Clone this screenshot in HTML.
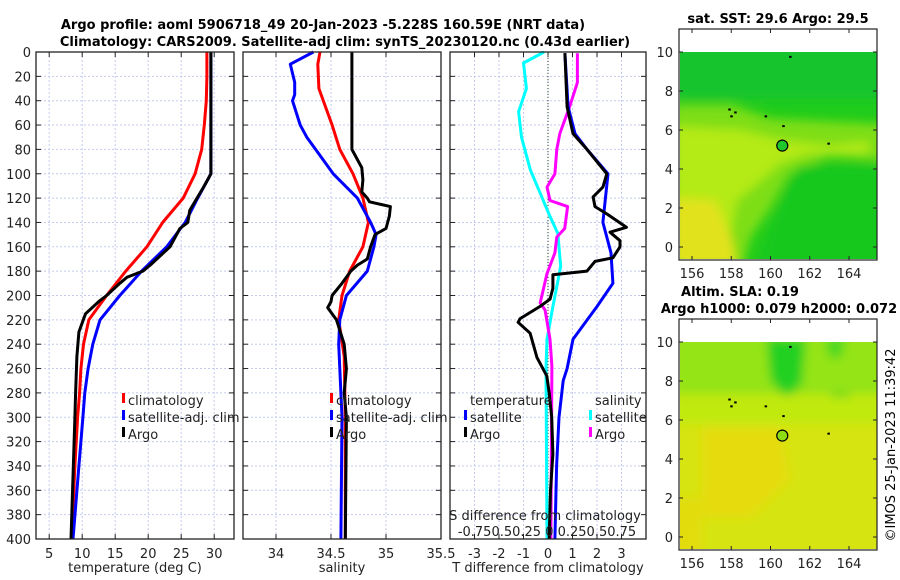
<!DOCTYPE html>
<html><head><meta charset="utf-8"><style>
html,body{margin:0;padding:0;background:#fff;}
svg{display:block;font-family:"DejaVu Sans","Liberation Sans",sans-serif;}
</style></head><body>
<svg id="fig" width="900" height="580" viewBox="0 0 900 580" xmlns="http://www.w3.org/2000/svg">
<defs>
<filter id="bl" x="-20%" y="-20%" width="140%" height="140%"><feGaussianBlur stdDeviation="5"/></filter>
<clipPath id="c1"><rect x="680" y="52" width="197" height="207"/></clipPath>
<clipPath id="c2"><rect x="680" y="342" width="197" height="207"/></clipPath>
</defs>
<g font-weight="bold" font-size="13" text-anchor="middle" fill="#000">
<text x="323" y="29">Argo profile: aoml 5906718_49 20-Jan-2023 -5.228S 160.59E (NRT data)</text>
<text x="345" y="46">Climatology: CARS2009. Satellite-adj clim: synTS_20230120.nc (0.43d earlier)</text>
</g>
<g font-weight="bold" font-size="13" text-anchor="middle"><text x="778" y="23">sat. SST: 29.6 Argo: 29.5</text></g>
<g font-weight="bold" font-size="13" text-anchor="middle"><text x="740" y="296">Altim. SLA: 0.19</text><text x="779" y="313">Argo h1000: 0.079 h2000: 0.072</text></g>
<text font-size="13" text-anchor="middle" transform="translate(895,445) rotate(-90)">©IMOS 25-Jan-2023 11:39:42</text>
<g id="plots"></g>
</svg>
<script>
// ---- data (depth in dbar) ----
const depthTicks = [0,20,40,60,80,100,120,140,160,180,200,220,240,260,280,300,320,340,360,380,400];
const tempTicks = [5,10,15,20,25,30];
const salTicks = [34,34.5,35,35.5];
const diffTicks = [-3,-2,-1,0,1,2,3];
const lonTicks = [156,158,160,162,164];
const latTicks = [0,2,4,6,8,10];

const climTempDepth = [0,20,40,60,80,100,120,140,160,180,200,220,240,260,280,300,340,400];
const climTemp =      [28.9,28.9,28.8,28.5,28.1,27.1,25.3,22.2,19.8,16.6,13.7,11.0,10.2,9.8,9.6,9.3,8.9,8.4];
const satTempDepth = [0,50,100,120,140,160,180,200,220,240,260,280,300,340,400];
const satTemp =      [29.5,29.5,29.5,27.5,25.6,22.8,19.0,15.7,12.7,11.6,10.9,10.4,10.1,9.5,8.6];
const argoTempDepth = [0,50,100,110,120,130,140,145,160,170,175,180,185,190,200,205,215,230,250,280,300,400];
const argoTemp =      [29.5,29.5,29.5,28.5,27.4,26.3,26.0,24.8,23.3,21.3,20.3,19.2,16.8,15.7,13.7,12.5,10.5,9.5,9.2,9.0,8.9,8.3];

const climSalDepth = [0,10,30,40,60,80,100,120,140,160,180,200,220,250,300,400];
const climSal =      [34.40,34.38,34.39,34.43,34.51,34.58,34.70,34.79,34.84,34.79,34.67,34.60,34.57,34.62,34.63,34.63];
const satSalDepth = [0,10,25,35,40,60,70,80,100,120,140,150,160,180,200,220,240,300,400];
const satSal =      [34.34,34.13,34.17,34.17,34.15,34.22,34.28,34.36,34.52,34.74,34.86,34.91,34.89,34.83,34.64,34.58,34.57,34.60,34.59];
const argoSalDepth = [0,80,85,95,105,115,120,123,127,135,145,150,160,170,175,180,190,200,205,210,220,240,260,280,300,400];
const argoSal =      [34.69,34.69,34.72,34.78,34.79,34.78,34.83,34.85,35.04,35.03,35.00,34.90,34.86,34.83,34.74,34.68,34.60,34.51,34.50,34.47,34.55,34.62,34.64,34.62,34.64,34.63];

const satSDiffDepth = [0,9,30,49,70,97,116,135,149,176,209,236,260,400];
const satSDiff =      [-0.04,-0.25,-0.22,-0.30,-0.27,-0.18,-0.08,0.02,0.10,0.13,0.05,-0.01,-0.02,-0.01];
const argoSDiffDepth = [1,25,45,67,80,100,111,122,127,145,152,165,182,206,212,236,258,400];
const argoSDiff =      [0.30,0.30,0.22,0.12,0.09,0.07,-0.01,0.02,0.20,0.17,0.09,0.07,-0.01,-0.08,-0.03,0.02,0.04,0.03];
const satTDiffDepth = [1,45,67,80,100,140,165,190,209,236,260,270,300,340,400];
const satTDiff =      [0.69,0.82,1.10,1.59,2.45,2.24,2.57,2.65,2.00,1.02,0.78,0.62,0.45,0.35,0.28];
const argoTDiffDepth = [1,45,67,80,100,111,119,127,133,144,148,155,160,169,172,180,183,194,203,209,219,222,231,251,266,280,300,330,360,400];
const argoTDiff =      [0.69,0.78,1.02,1.59,2.40,2.24,1.84,1.92,2.40,3.20,2.53,2.94,2.94,2.65,1.92,1.59,0.20,0.20,0.08,-0.33,-1.14,-1.22,-0.73,-0.45,-0.05,0.05,0.15,0.20,0.10,0.05];

const mapCircle = [160.6, 5.2];
const islandsLon = [158.2,157.9,158.0,159.75,160.65,162.95,161.0];
const islandsLat = [6.9,7.05,6.7,6.7,6.2,5.3,9.75];

// ---- helpers ----
const NS='http://www.w3.org/2000/svg';
const root=document.getElementById('plots');
function mk(tag,attrs,parent){const e=document.createElementNS(NS,tag);for(const k in attrs)e.setAttribute(k,attrs[k]);(parent||root).appendChild(e);return e;}
const Y0=52,Y1=539;
const yD=d=>Y0+(d/400)*(Y1-Y0);
function lin(d0,d1,r0,r1){return v=>r0+(v-d0)/(d1-d0)*(r1-r0);}

function panel(name,x0,x1,xs,ticks,labelFmt,xTitle,showY){
  const g=mk('g',{});
  
  
  // grid
  depthTicks.forEach(d=>{mk('line',{x1:x0,x2:x1,y1:yD(d),y2:yD(d),stroke:'#c4cbee','stroke-width':1,'stroke-dasharray':'2,2'},g);});
  ticks.forEach(t=>{mk('line',{x1:xs(t),x2:xs(t),y1:Y0,y2:Y1,stroke:'#c4cbee','stroke-width':1,'stroke-dasharray':'2,2'},g);});
  // ticks
  depthTicks.forEach(d=>{mk('line',{x1:x0,x2:x0+5,y1:yD(d),y2:yD(d),stroke:'#222'},g);mk('line',{x1:x1,x2:x1-5,y1:yD(d),y2:yD(d),stroke:'#222'},g);
    if(showY){const t=mk('text',{x:x0-5,y:yD(d)+5,'font-size':13,'text-anchor':'end',fill:'#222'},g);t.textContent=d;}});
  ticks.forEach(v=>{mk('line',{x1:xs(v),x2:xs(v),y1:Y1,y2:Y1-5,stroke:'#222'},g);mk('line',{x1:xs(v),x2:xs(v),y1:Y0,y2:Y0+5,stroke:'#222'},g);
    const t=mk('text',{x:xs(v),y:Y1+19,'font-size':13,'text-anchor':'middle',fill:'#222'},g);t.textContent=labelFmt(v);});
  const tt=mk('text',{x:(x0+x1)/2,y:572,'font-size':13,'text-anchor':'middle',fill:'#222'},g);tt.textContent=xTitle;
  
  
  return g;
}
function frame(g,x0,x1){mk('rect',{x:x0,y:Y0,width:x1-x0,height:Y1-Y0,fill:'none',stroke:'#222','stroke-width':1.3},g);}
function line(g,name,xs,vals,depths,color,w){
  const pts=vals.map((v,i)=>xs(v).toFixed(1)+','+yD(depths[i]).toFixed(1)).join(' ');
  const p=mk('polyline',{points:pts,fill:'none',stroke:color,'stroke-width':w||3,'stroke-linejoin':'round'},g);
  
  
}
function legendEntry(g,name,x,y,color,label){
  const e=mk('g',{},g);
  
  
  mk('rect',{x:x,y:y-12,width:3,height:10,fill:color},e);
  const t=mk('text',{x:x+6,y:y,'font-size':13,fill:'#222'},e);t.textContent=label;
}

// Panel 1: temperature
const xT=lin(3,33,36,234);
const g1=panel('temperature-panel',36,234,xT,tempTicks,v=>v,'temperature (deg C)',true);
line(g1,'temp-climatology-line',xT,climTemp,climTempDepth,'#ff0000');
line(g1,'temp-satellite-line',xT,satTemp,satTempDepth,'#0000ff');
line(g1,'temp-argo-line',xT,argoTemp,argoTempDepth,'#000000');
frame(g1,36,234);
legendEntry(g1,'legend-climatology',122,405,'#ff0000','climatology');
legendEntry(g1,'legend-satellite-adj',122,422,'#0000ff','satellite-adj. clim');
legendEntry(g1,'legend-argo',122,439,'#000000','Argo');

// Panel 2: salinity
const xS=lin(33.7,35.5,243,441);
const g2=panel('salinity-panel',243,441,xS,salTicks,v=>v,'salinity',false);
line(g2,'sal-climatology-line',xS,climSal,climSalDepth,'#ff0000');
line(g2,'sal-satellite-line',xS,satSal,satSalDepth,'#0000ff');
line(g2,'sal-argo-line',xS,argoSal,argoSalDepth,'#000000');
frame(g2,243,441);
legendEntry(g2,'legend-sal-climatology',330,405,'#ff0000','climatology');
legendEntry(g2,'legend-sal-satellite-adj',330,422,'#0000ff','satellite-adj. clim');
legendEntry(g2,'legend-sal-argo',330,439,'#000000','Argo');

// Panel 3: differences
const xDf=lin(-4,4,450,646);
const xSd=v=>xDf(v*4);
const g3=panel('difference-panel',450,646,xDf,diffTicks,v=>v,'T difference from climatology',false);
mk('line',{x1:xDf(0),x2:xDf(0),y1:Y0,y2:Y1,stroke:'#334422','stroke-width':1,'stroke-dasharray':'1,2'},g3);
line(g3,'sdiff-satellite-line',xSd,satSDiff,satSDiffDepth,'#00ffff');
line(g3,'sdiff-argo-line',xSd,argoSDiff,argoSDiffDepth,'#ff00ff');
line(g3,'tdiff-satellite-line',xDf,satTDiff,satTDiffDepth,'#0000ff');
line(g3,'tdiff-argo-line',xDf,argoTDiff,argoTDiffDepth,'#000000');
frame(g3,450,646);
{const t=mk('text',{x:470,y:405,'font-size':13,fill:'#222'},g3);t.textContent='temperature';
 const t2=mk('text',{x:595,y:405,'font-size':13,fill:'#222'},g3);t2.textContent='salinity';}
legendEntry(g3,'legend-tdiff-satellite',464,422,'#0000ff','satellite');
legendEntry(g3,'legend-tdiff-argo',464,439,'#000000','Argo');
legendEntry(g3,'legend-sdiff-satellite',589,422,'#00ffff','satellite');
legendEntry(g3,'legend-sdiff-argo',589,439,'#ff00ff','Argo');
{const t=mk('text',{x:545,y:520,'font-size':13,'text-anchor':'middle',fill:'#222'},g3);t.textContent='S difference from climatology';
 
 
 const t2=mk('text',{x:547,y:536,'font-size':13,'text-anchor':'middle',fill:'#222'},g3);t2.textContent='-0.750.50.25 0 0.250.50.75';}

// Maps
function map(name,top,y0,y1,blobs,base,circleFill,clip){
  const g=mk('g',{});
  
  
  const mx=lin(156,164,692,849), my=lin(0,10,y1-12,y0);
  const cg=mk('g',{'clip-path':'url(#'+clip+')'},g);
  mk('rect',{x:680,y:y0,width:197,height:y1-y0,fill:base},cg);
  const bg=mk('g',{filter:'url(#bl)'},cg);
  blobs.forEach(b=>{mk('polygon',{points:b[1].map(p=>mx(p[0]).toFixed(1)+','+my(p[1]).toFixed(1)).join(' '),fill:b[0]},bg);});
  islandsLon.forEach((lo,i)=>{mk('rect',{x:mx(lo)-1,y:my(islandsLat[i])-1,width:2.5,height:2,fill:'#000'},cg);});
  const c=mk('circle',{cx:mx(mapCircle[0]),cy:my(mapCircle[1]),r:5.5,fill:circleFill,stroke:'#000','stroke-width':1.2},g);
  
  
  mk('rect',{x:679,y:top,width:198,height:y1+1-top,fill:'none',stroke:'#222','stroke-width':1.2},g);
  lonTicks.forEach(v=>{mk('line',{x1:mx(v),x2:mx(v),y1:y1+1,y2:y1-3,stroke:'#222'},g);mk('line',{x1:mx(v),x2:mx(v),y1:top,y2:top+4,stroke:'#222'},g);
    const t=mk('text',{x:mx(v),y:y1+19,'font-size':13,'text-anchor':'middle',fill:'#222'},g);t.textContent=v;});
  latTicks.forEach(v=>{mk('line',{x1:679,x2:683,y1:my(v),y2:my(v),stroke:'#222'},g);mk('line',{x1:877,x2:873,y1:my(v),y2:my(v),stroke:'#222'},g);
    const t=mk('text',{x:673,y:my(v)+5,'font-size':13,'text-anchor':'end',fill:'#222'},g);t.textContent=v;});
}
map('sst-map',29,52,259,[
  ['#18c42e',[[155,7.6],[166,7.6],[166,11],[155,11]]],
  ['#7ede12',[[155,7.3],[158,7.3],[160,6.6],[166,6.3],[166,4.4],[163,4.6],[161,3.8],[160,2],[159,0.5],[158.6,-1],[155,-1]]],
  ['#b4ea12',[[155,6.2],[158.5,6],[160.5,5.5],[163,5.2],[165,5.4],[165,4.8],[162,4.8],[160.5,4.3],[159.5,3.4],[158.3,2.4],[157.8,0],[155,0]]],
  ['#12c81a',[[161.5,4.2],[166,4.2],[166,-1],[159.4,-1],[160.2,1.5],[160.8,3]]],
  ['#e2e21a',[[155,2.5],[157.2,2.4],[158,0.5],[158.3,-1],[155,-1]]]
],'#20cc1c','#1ec82a','c1');
map('sla-map',319,342,549,[
  ['#94e414',[[155,7.3],[166,7.3],[166,11],[155,11]]],
  ['#22d020',[[159.8,10.2],[161.8,10.2],[161.6,7.8],[160.8,7.2],[160,8]]],
  ['#44d820',[[162.8,10.2],[163.8,10.2],[163.6,9.2],[163.0,9.2]]],
  ['#3cd220',[[163.1,7.4],[164,7.4],[164,6.2],[163.2,6.2]]],
  ['#c0ea10',[[155,7.2],[166,7.2],[166,5.8],[155,5.8]]],
  ['#e6dc0e',[[156.5,5.6],[160.5,5.6],[161,3],[159,1],[156.5,1]]],
  ['#e2dc0e',[[155,2],[156.5,2],[156.5,-1],[155,-1]]]
],'#d6e412','#8ede14','c2');
</script>
</body></html>
